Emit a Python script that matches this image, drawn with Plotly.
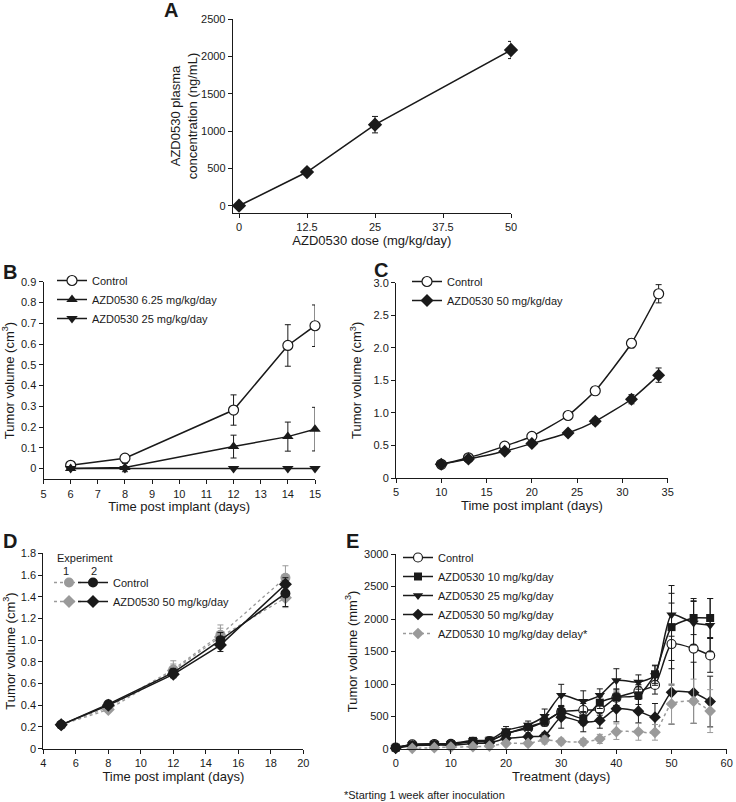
import plotly.graph_objects as go

W, H = 736, 802
FONT = "Liberation Sans, Arial, sans-serif"
INK = "#1a1a1a"
GREY = "#9a9a9a"

# ---------------- Panel A ----------------
a_dose = [0, 12.5, 25, 50]
a_conc = [0, 450, 1085, 2085]
a_err = [0, 30, 110, 115]
a_xticks = [0, 12.5, 25, 37.5, 50]
a_xticklabels = ["0", "12.5", "25", "37.5", "50"]

# ---------------- Panel B ----------------
b_days = [6, 8, 12, 14, 15]
b_control = [0.016, 0.05, 0.282, 0.593, 0.688]
b_control_err = [0.005, 0.01, 0.073, 0.10, 0.10]
b_low = [0.0, 0.005, 0.106, 0.154, 0.19]
b_low_err = [0.0, 0.02, 0.055, 0.07, 0.105]
b_high = [0.0, 0.0, 0.0, 0.0, 0.0]

# ---------------- Panel C ----------------
c_days = [10, 13, 17, 20, 24, 27, 31, 34]
c_control = [0.21, 0.31, 0.49, 0.64, 0.96, 1.34, 2.07, 2.83]
c_control_err = [0.02, 0.02, 0.03, 0.03, 0.04, 0.06, 0.07, 0.14]
c_azd = [0.21, 0.29, 0.41, 0.53, 0.69, 0.87, 1.21, 1.58]
c_azd_err = [0.02, 0.02, 0.03, 0.03, 0.04, 0.05, 0.07, 0.11]
c_yticks = [0, 0.5, 1.0, 1.5, 2.0, 2.5, 3.0]
c_yticklabels = ["0", "0.5", "1.0", "1.5", "2.0", "2.5", "3.0"]

# ---------------- Panel D ----------------
d_days = [5.1, 8, 12, 14.9, 18.9]
d_ctrl_exp1 = [0.22, 0.38, 0.73, 1.05, 1.575]
d_ctrl_exp1_err = [0.01, 0.02, 0.08, 0.09, 0.11]
d_azd_exp1 = [0.22, 0.36, 0.72, 1.03, 1.39]
d_azd_exp1_err = [0.01, 0.02, 0.06, 0.08, 0.09]
d_ctrl_exp2 = [0.22, 0.41, 0.70, 1.00, 1.43]
d_ctrl_exp2_err = [0.01, 0.03, 0.04, 0.07, 0.12]
d_azd_exp2 = [0.22, 0.40, 0.685, 0.955, 1.515]
d_azd_exp2_err = [0.01, 0.03, 0.03, 0.06, 0.06]
d_yticks = [0, 0.2, 0.4, 0.6, 0.8, 1.0, 1.2, 1.4, 1.6, 1.8]
d_yticklabels = ["0", "0.2", "0.4", "0.6", "0.8", "1.0", "1.2", "1.4", "1.6", "1.8"]

# ---------------- Panel E ----------------
e_days = [0, 3, 7, 10, 14, 17, 20, 24, 27, 30, 34, 37, 40, 44, 47, 50, 54, 57]
e_control = [20, 70, 75, 80, 110, 120, 240, 320, 420, 570, 600, 610, 790, 890, 985, 1615, 1545, 1440]
e_control_err = [10, 15, 15, 15, 20, 20, 40, 50, 60, 80, 100, 90, 120, 100, 140, 630, 770, 260]
e_10 = [20, 60, 70, 75, 125, 130, 230, 340, 420, 570, 470, 713, 795, 825, 1150, 1875, 2015, 2015]
e_10_err = [10, 15, 15, 15, 20, 20, 40, 50, 70, 100, 100, 90, 130, 140, 140, 640, 255, 300]
e_25 = [20, 70, 80, 85, 130, 140, 285, 370, 505, 825, 735, 825, 1055, 1030, 1130, 2065, 1940, 1905]
e_25_err = [10, 15, 15, 15, 20, 20, 60, 60, 110, 170, 160, 100, 180, 110, 150, 330, 340, 410]
e_50 = [10, 50, 60, 60, 85, 95, 160, 190, 205, 490, 415, 440, 618, 582, 490, 872, 865, 730]
e_50_err = [5, 10, 10, 10, 15, 15, 40, 40, 50, 170, 150, 120, 200, 180, 210, 490, 470, 390]
e_delay_days = [3, 7, 10, 14, 17, 20, 24, 27, 30, 34, 37, 40, 44, 47, 50, 54, 57]
e_delay = [10, 20, 30, 35, 45, 87, 87, 138, 115, 108, 155, 267, 265, 256, 692, 735, 583]
e_delay_err = [5, 10, 10, 10, 10, 30, 40, 60, 50, 50, 70, 120, 130, 120, 310, 340, 330]


def px_x(p):
    return p / W


def px_y(p):
    return 1 - p / H


def err(arr, color=INK, visible=True):
    return dict(type="data", array=arr, color=color, thickness=1, width=3, visible=visible)


fig = go.Figure()

# A
fig.add_trace(go.Scatter(x=a_dose, y=a_conc, error_y=err(a_err), mode="lines+markers",
                         line=dict(color=INK, width=1.6),
                         marker=dict(symbol="diamond", size=11, color=INK),
                         xaxis="x", yaxis="y", showlegend=False, cliponaxis=False))

# B
fig.add_trace(go.Scatter(x=b_days, y=b_control, error_y=err(b_control_err), mode="lines+markers",
                         name="Control", line=dict(color=INK, width=1.5),
                         marker=dict(symbol="circle", size=10, color="white", line=dict(color=INK, width=1.2)),
                         xaxis="x2", yaxis="y2", legend="legend", cliponaxis=False))
fig.add_trace(go.Scatter(x=b_days, y=b_low, error_y=err(b_low_err), mode="lines+markers",
                         name="AZD0530 6.25 mg/kg/day", line=dict(color=INK, width=1.5),
                         marker=dict(symbol="triangle-up", size=10, color=INK),
                         xaxis="x2", yaxis="y2", legend="legend", cliponaxis=False))
fig.add_trace(go.Scatter(x=b_days, y=b_high, mode="lines+markers",
                         name="AZD0530 25 mg/kg/day", line=dict(color=INK, width=1.5),
                         marker=dict(symbol="triangle-down", size=10, color=INK),
                         xaxis="x2", yaxis="y2", legend="legend", cliponaxis=False))

# C
fig.add_trace(go.Scatter(x=c_days, y=c_control, error_y=err(c_control_err), mode="lines+markers",
                         name="Control", line=dict(color=INK, width=1.5, shape="spline", smoothing=0.5),
                         marker=dict(symbol="circle", size=10, color="white", line=dict(color=INK, width=1.2)),
                         xaxis="x3", yaxis="y3", legend="legend2", cliponaxis=False))
fig.add_trace(go.Scatter(x=c_days, y=c_azd, error_y=err(c_azd_err), mode="lines+markers",
                         name="AZD0530 50 mg/kg/day", line=dict(color=INK, width=1.5, shape="spline", smoothing=0.5),
                         marker=dict(symbol="diamond", size=10, color=INK),
                         xaxis="x3", yaxis="y3", legend="legend2", cliponaxis=False))

# D (experiment 1 grey dotted, experiment 2 black)
fig.add_trace(go.Scatter(x=d_days, y=d_ctrl_exp1, error_y=err(d_ctrl_exp1_err, GREY), mode="lines+markers",
                         name=" ", line=dict(color=GREY, width=1.3, dash="dot"),
                         marker=dict(symbol="circle", size=10, color=GREY),
                         xaxis="x4", yaxis="y4", legend="legend3", cliponaxis=False))
fig.add_trace(go.Scatter(x=d_days, y=d_azd_exp1, error_y=err(d_azd_exp1_err, GREY), mode="lines+markers",
                         name=" ", line=dict(color=GREY, width=1.3, dash="dot"),
                         marker=dict(symbol="diamond", size=10, color=GREY),
                         xaxis="x4", yaxis="y4", legend="legend3", cliponaxis=False))
fig.add_trace(go.Scatter(x=d_days, y=d_ctrl_exp2, error_y=err(d_ctrl_exp2_err), mode="lines+markers",
                         name="Control", line=dict(color=INK, width=1.5),
                         marker=dict(symbol="circle", size=10, color=INK),
                         xaxis="x4", yaxis="y4", legend="legend4", cliponaxis=False))
fig.add_trace(go.Scatter(x=d_days, y=d_azd_exp2, error_y=err(d_azd_exp2_err), mode="lines+markers",
                         name="AZD0530 50 mg/kg/day", line=dict(color=INK, width=1.5),
                         marker=dict(symbol="diamond", size=10, color=INK),
                         xaxis="x4", yaxis="y4", legend="legend4", cliponaxis=False))

# E
e_series = [
    ("Control", e_days, e_control, e_control_err, dict(symbol="circle", size=9, color="white", line=dict(color=INK, width=1.2)), INK, "solid"),
    ("AZD0530 10 mg/kg/day", e_days, e_10, e_10_err, dict(symbol="square", size=8, color=INK), INK, "solid"),
    ("AZD0530 25 mg/kg/day", e_days, e_25, e_25_err, dict(symbol="triangle-down", size=9, color=INK), INK, "solid"),
    ("AZD0530 50 mg/kg/day", e_days, e_50, e_50_err, dict(symbol="diamond", size=9, color=INK), INK, "solid"),
    ("AZD0530 10 mg/kg/day delay*", e_delay_days, e_delay, e_delay_err, dict(symbol="diamond", size=9, color=GREY), GREY, "dot"),
]
for name, xs, ys, es, mk, col, dash in e_series:
    fig.add_trace(go.Scatter(x=xs, y=ys, error_y=err(es, col), mode="lines+markers", name=name,
                             line=dict(color=col, width=1.5, dash=dash, shape="spline", smoothing=0.6),
                             marker=mk, xaxis="x5", yaxis="y5", legend="legend5", cliponaxis=False))


def axis(domain, rng, anchor, title=None, standoff=0, **kw):
    d = dict(domain=domain, range=rng, anchor=anchor, showline=True, linecolor=INK, linewidth=1,
             ticks="outside", ticklen=4, tickwidth=1, tickcolor=INK, showgrid=False, zeroline=False,
             automargin=False, tickfont=dict(size=11, color=INK, family=FONT))
    if title is not None:
        d["title"] = dict(text=title, font=dict(size=13, color=INK, family=FONT), standoff=standoff)
    d.update(kw)
    return d


yt = "Tumor volume (cm<sup>3</sup>)"
layout = dict(
    width=W, height=H, margin=dict(l=0, r=0, t=0, b=0, pad=0, autoexpand=False),
    paper_bgcolor="white", plot_bgcolor="white",
    font=dict(family=FONT, color=INK, size=11),
    # A
    xaxis=axis([px_x(232.7), px_x(511)], [-1.16, 50], "y", "AZD0530 dose (mg/kg/day)",
               tickvals=a_xticks, ticktext=a_xticklabels),
    yaxis=axis([px_y(213), px_y(19)], [-98, 2500], "x", "AZD0530 plasma<br>concentration (ng/mL)",
               dtick=500, tick0=0),
    # B
    xaxis2=axis([px_x(43.5), px_x(315)], [5, 15], "y2", "Time post implant (days)", dtick=1, tick0=5),
    yaxis2=axis([px_y(479.3), px_y(281.7)], [-0.0515, 0.9], "x2", yt, standoff=3, dtick=0.1, tick0=0),
    # C
    xaxis3=axis([px_x(396), px_x(667.7)], [5, 35], "y3", "Time post implant (days)", dtick=5, tick0=5),
    yaxis3=axis([px_y(478), px_y(282.7)], [0, 3.0], "x3", yt, standoff=8,
                tickvals=c_yticks, ticktext=c_yticklabels),
    # D
    xaxis4=axis([px_x(43.3), px_x(303.3)], [4, 20], "y4", "Time post implant (days)", dtick=2, tick0=4),
    yaxis4=axis([px_y(748.7), px_y(553.3)], [0, 1.8], "x4", yt, standoff=2,
                tickvals=d_yticks, ticktext=d_yticklabels),
    # E
    xaxis5=axis([px_x(395.7), px_x(726.7)], [0, 60], "y5", "Treatment (days)", dtick=10, tick0=0),
    yaxis5=axis([px_y(749), px_y(554)], [0, 3000], "x5", "Tumor volume (mm<sup>3</sup>)", standoff=3,
                dtick=500, tick0=0),
)

leg_common = dict(bgcolor="rgba(0,0,0,0)", borderwidth=0, itemwidth=30,
                  font=dict(size=11, color=INK, family=FONT), xanchor="left", yanchor="top",
                  tracegroupgap=0, itemclick=False, itemdoubleclick=False)
layout["legend"] = dict(leg_common, x=px_x(52), y=px_y(266))
layout["legend2"] = dict(leg_common, x=px_x(407), y=px_y(267))
layout["legend3"] = dict(leg_common, x=px_x(49), y=px_y(568))
layout["legend4"] = dict(leg_common, x=px_x(73), y=px_y(568))
layout["legend5"] = dict(leg_common, x=px_x(398), y=px_y(543))

fig.update_layout(**layout)

annots = [
    ("A", 171, 10, 20, True, "center"),
    ("B", 10, 272, 20, True, "center"),
    ("C", 381, 270, 20, True, "center"),
    ("D", 10, 541, 20, True, "center"),
    ("E", 352, 541, 20, True, "center"),
    ("Experiment", 55, 558, 11, False, "left"),
    ("1", 66, 571, 11, False, "center"),
    ("2", 94, 571, 11, False, "center"),
    ("*Starting 1 week after inoculation", 342, 795, 11, False, "left"),
]
for text, x, y, size, bold, xa in annots:
    fig.add_annotation(text=f"<b>{text}</b>" if bold else text, x=px_x(x), y=px_y(y),
                       xref="paper", yref="paper", xanchor=xa, yanchor="middle", showarrow=False,
                       font=dict(size=size, color=INK, family=FONT))

fig.write_html("out.html", config={"displayModeBar": False},
               post_script="document.body.style.margin='0';document.body.style.overflow='hidden';")
